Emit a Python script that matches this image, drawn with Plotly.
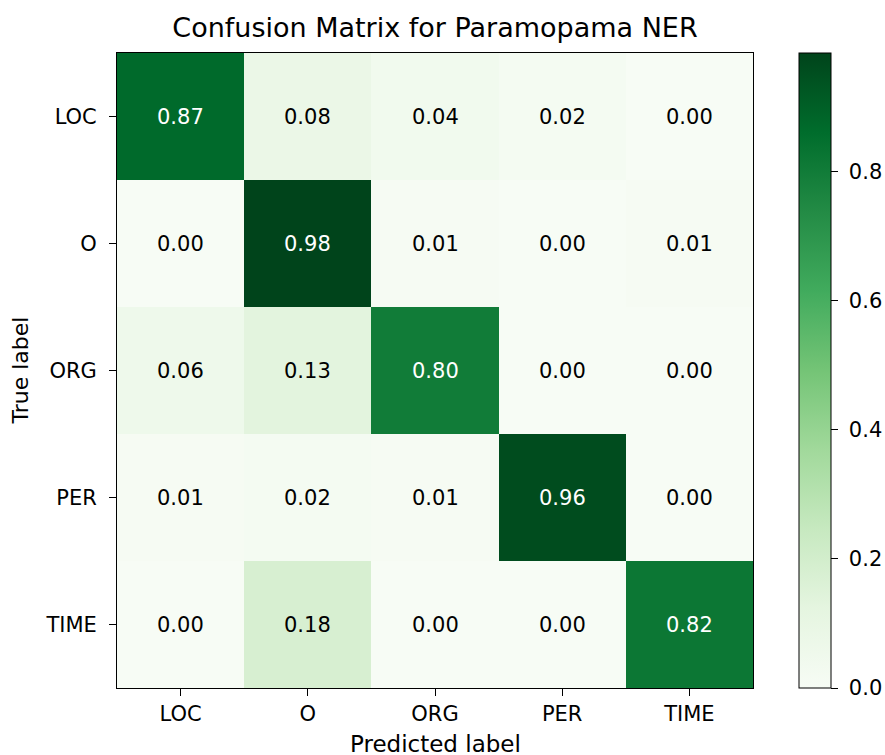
import plotly.graph_objects as go

labels = ["LOC", "O", "ORG", "PER", "TIME"]
row_loc = [0.87, 0.08, 0.04, 0.02, 0.00]
row_o = [0.00, 0.984, 0.01, 0.00, 0.01]
row_org = [0.06, 0.13, 0.80, 0.00, 0.00]
row_per = [0.01, 0.02, 0.01, 0.96, 0.00]
row_time = [0.00, 0.18, 0.00, 0.00, 0.82]
matrix = [row_loc, row_o, row_org, row_per, row_time]
cbar_ticks = [0.0, 0.2, 0.4, 0.6, 0.8]

greens = ["#f7fcf5", "#e5f5e0", "#c7e9c0", "#a1d99b", "#74c476",
          "#41ab5d", "#238b45", "#006d2c", "#00441b"]
colorscale = [[i / (len(greens) - 1), c] for i, c in enumerate(greens)]

W, H = 885, 755
L, R, T, B = 117, 132, 53, 67
pw = W - L - R
ph = H - T - B
FONT = "DejaVu Sans"

zmax = max(max(r) for r in matrix)
thresh = zmax / 2

fig = go.Figure(go.Heatmap(
    z=matrix, x=labels, y=labels,
    colorscale=colorscale, zmin=0, zmax=zmax,
    xgap=0, ygap=0, hoverinfo="skip",
    colorbar=dict(
        x=(799 - L) / pw, xanchor="left", xref="paper",
        y=0.5, yanchor="middle", len=1, lenmode="fraction",
        thickness=32, thicknessmode="pixels",
        xpad=0, ypad=0, outlinewidth=1, outlinecolor="black",
        tickvals=cbar_ticks,
        ticktext=["\u00a0" + f"{v:.1f}" for v in cbar_ticks],
        ticks="outside", ticklen=7, tickcolor="black", tickwidth=1,
        tickfont=dict(family=FONT, size=21, color="#000"),
    ),
))

annotations = []
for i, row in enumerate(matrix):
    for j, v in enumerate(row):
        annotations.append(dict(
            x=labels[j], y=labels[i], text=f"{v:.2f}", showarrow=False,
            font=dict(family=FONT, size=21, color="white" if v > thresh else "black"),
        ))
annotations.append(dict(
    xref="paper", yref="paper", x=0.5, y=-(744 - (T + ph)) / ph,
    xanchor="center", yanchor="middle", text="Predicted label", showarrow=False,
    font=dict(family=FONT, size=23, color="black"),
))
annotations.append(dict(
    xref="paper", yref="paper", x=(20 - L) / pw, y=0.5,
    xanchor="center", yanchor="middle", text="True label", showarrow=False,
    textangle=-90, font=dict(family=FONT, size=22, color="black"),
))

axis_common = dict(
    showline=True, linecolor="black", linewidth=1, mirror=True,
    ticks="outside", ticklen=7, tickcolor="black", tickwidth=1,
    showgrid=False, zeroline=False,
    tickfont=dict(family=FONT, size=21, color="black"),
)

fig.update_layout(
    width=W, height=H,
    margin=dict(l=L, r=R, t=T, b=B, autoexpand=False),
    paper_bgcolor="white", plot_bgcolor="white",
    title=dict(text="Confusion Matrix for Paramopama NER",
               x=(L + pw / 2) / W, xanchor="center", xref="container",
               y=1 - 28 / H, yanchor="middle", yref="container",
               font=dict(family=FONT, size=27, color="black")),
    xaxis=dict(**axis_common, type="category"),
    yaxis=dict(**axis_common, type="category", autorange="reversed",
               ticklabelstandoff=8),
    annotations=annotations,
)

fig.write_html("out.html")
